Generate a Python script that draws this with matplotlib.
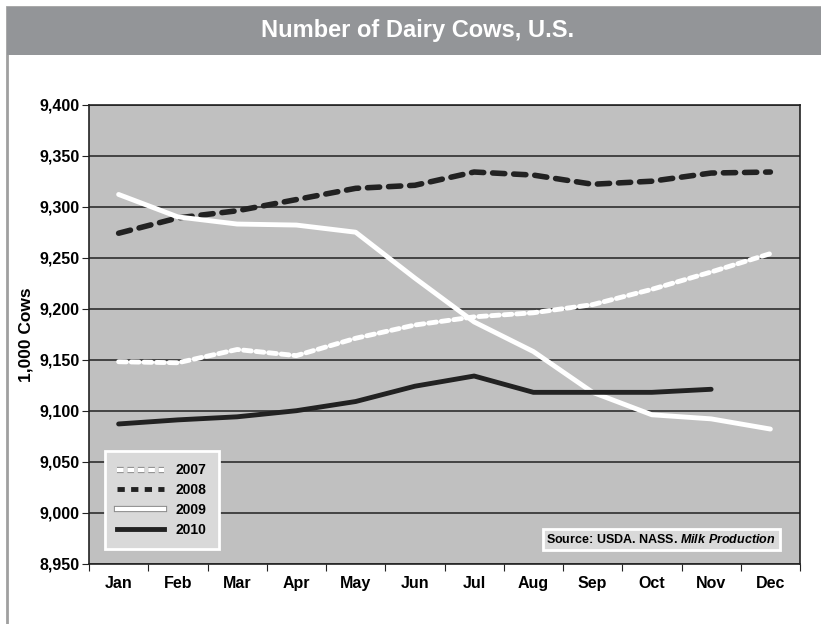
import matplotlib.pyplot as plt
import matplotlib.patheffects as pe
from matplotlib.patches import Rectangle
from matplotlib.ticker import FuncFormatter
from matplotlib.lines import Line2D

plt.rcParams['font.family'] = ['Liberation Sans', 'DejaVu Sans']
plt.rcParams['font.weight'] = 'bold'
plt.rcParams['mathtext.fontset'] = 'custom'
plt.rcParams['mathtext.it'] = 'Liberation Sans:italic:bold'
plt.rcParams['mathtext.rm'] = 'Liberation Sans:bold'

# Данные (тыс. голов)
months = ['Jan', 'Feb', 'Mar', 'Apr', 'May', 'Jun', 'Jul', 'Aug', 'Sep', 'Oct', 'Nov', 'Dec']
cows_2007 = [9148, 9147, 9160, 9154, 9171, 9184, 9192, 9196, 9204, 9219, 9236, 9254]
cows_2008 = [9274, 9289, 9296, 9307, 9318, 9321, 9334, 9331, 9322, 9325, 9333, 9334]
cows_2009 = [9312, 9290, 9283, 9282, 9275, 9230, 9187, 9158, 9118, 9096, 9092, 9082]
cows_2010 = [9087, 9091, 9094, 9100, 9109, 9124, 9134, 9118, 9118, 9118, 9121]
y_ticks = list(range(8950, 9401, 50))

fig = plt.figure(figsize=(8.21, 6.24), dpi=100)
fig.patch.set_facecolor('white')

# рамка и полоса заголовка
W, H = 821, 624
fig.patches.append(Rectangle((7 / W, -0.01), 1.0, 1 - 7 / H + 0.01, transform=fig.transFigure,
                             facecolor='white', edgecolor='#a0a0a0', linewidth=2, zorder=-2))
fig.patches.append(Rectangle((7 / W, 1 - 55 / H), 1.0, 48 / H, transform=fig.transFigure,
                             facecolor='#939598', edgecolor='none', zorder=-1))
fig.text(418 / W, 1 - 31 / H, 'Number of Dairy Cows, U.S.', ha='center', va='center',
         color='white', fontsize=17, fontweight='bold')

ax = fig.add_axes([89 / W, 1 - 563.7 / H, 711 / W, 459 / H])
ax.set_zorder(2)
ax.set_facecolor('#c0c0c0')
x = list(range(len(months)))

ax.plot(x, cows_2008, color='#222222', lw=4, dashes=(2.2, 1.6), dash_capstyle='round', zorder=3)
ax.plot(x, cows_2009, color='white', lw=3.5, solid_capstyle='round', zorder=3)
ax.plot(x[:len(cows_2010)], cows_2010, color='#222222', lw=3.5, solid_capstyle='round', zorder=3)
ax.plot(x, cows_2007, color='white', lw=3.5, dashes=(1.6, 1.0), dash_capstyle='round', zorder=4)

ax.set_xlim(-0.5, 11.5)
ax.set_ylim(8950, 9400)
ax.set_yticks(y_ticks)
ax.yaxis.set_major_formatter(FuncFormatter(lambda v, p: f'{int(v):,}'))
ax.set_xticks([i + 0.5 for i in range(-1, 12)], minor=False)
ax.set_xticklabels([])
ax.set_xticks(x, minor=True)
ax.set_xticklabels(months, minor=True)
ax.tick_params(axis='x', which='minor', length=0, pad=9, labelsize=11.5)
ax.tick_params(axis='x', which='major', length=5, color='#222222')
ax.tick_params(axis='y', length=5, color='#222222', labelsize=11.5, pad=2)
ax.grid(axis='y', color='#222222', lw=1.1)
ax.set_axisbelow(True)
for s in ax.spines.values():
    s.set_color('#222222')
    s.set_linewidth(1.2)
ax.set_ylabel('1,000 Cows', fontsize=12.5, fontweight='bold', labelpad=4)

outline = [pe.Stroke(linewidth=4.5, foreground='#8c8c8c'), pe.Normal()]
handles = [
    Line2D([], [], color='white', lw=3, dashes=(1.6, 0.9), path_effects=outline),
    Line2D([], [], color='#222222', lw=3.5, dashes=(1.5, 1.3)),
    Line2D([], [], color='white', lw=3, path_effects=outline),
    Line2D([], [], color='#222222', lw=3.5),
]
leg = ax.legend(handles, ['2007', '2008', '2009', '2010'], loc='lower left',
                bbox_to_anchor=(0.022, 0.031), frameon=True, fancybox=False,
                handlelength=3.4, fontsize=10, labelspacing=0.42, borderpad=0.9,
                handletextpad=0.8, borderaxespad=0)
leg.get_frame().set_facecolor('#d9d9d9')
leg.get_frame().set_edgecolor('white')
leg.get_frame().set_linewidth(2)
leg.get_frame().set_alpha(1)
leg.set_zorder(6)

ax.text(0.966, 0.053, 'Source: USDA. NASS. $\\it{Milk\\ Production}$', transform=ax.transAxes,
        ha='right', va='center', fontsize=9, fontweight='bold', zorder=6,
        bbox=dict(boxstyle='square,pad=0.3', facecolor='#d9d9d9', edgecolor='white', lw=2))

fig.savefig('out.png', dpi=100)
